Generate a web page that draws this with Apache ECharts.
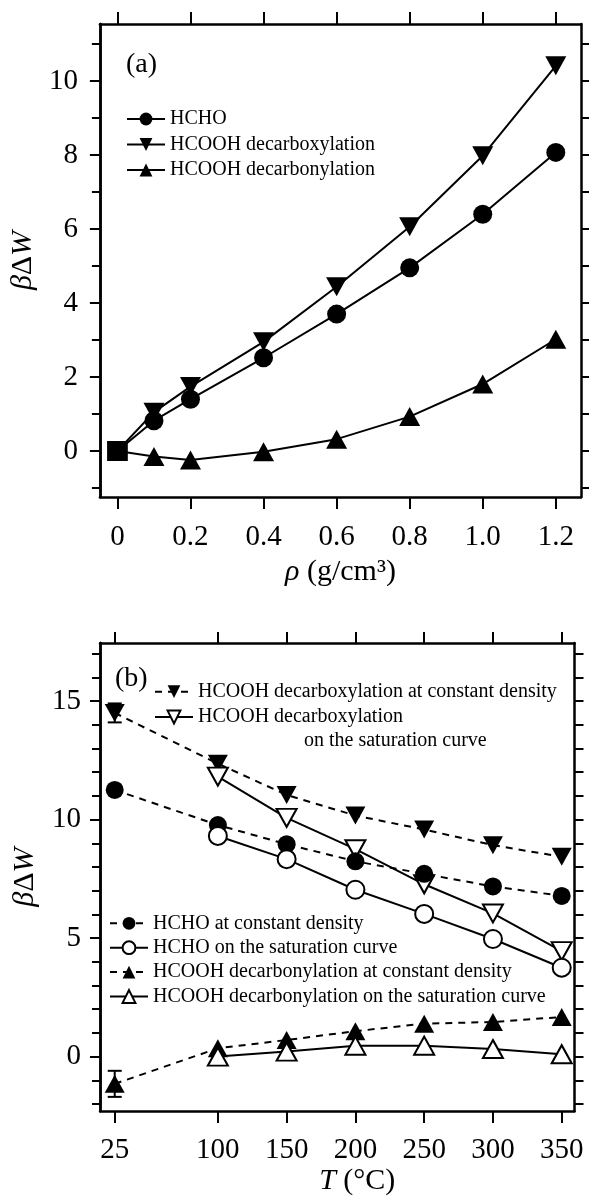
<!DOCTYPE html>
<html>
<head>
<meta charset="utf-8">
<script src="https://cdn.jsdelivr.net/npm/echarts@6/dist/echarts.min.js"></script>
<style>
html, body { margin: 0; padding: 0; background: #fff; }
#chart { width: 589px; height: 1197px; }
</style>
</head>
<body>
<div id="chart"></div>
<script>
// panel (a): density dependence
const aRho = [0, 0.1, 0.2, 0.4, 0.6, 0.8, 1.0, 1.2];
const aHCHO = [0, 0.82, 1.40, 2.52, 3.70, 4.95, 6.40, 8.07];
const aDecarbox = [0, 1.05, 1.74, 2.95, 4.44, 6.06, 7.98, 10.41];
const aDecarbon = [0, -0.15, -0.24, -0.02, 0.32, 0.93, 1.81, 3.02];
const aXTicks = [0, 0.2, 0.4, 0.6, 0.8, 1.0, 1.2];
const aXLabels = ['0', '0.2', '0.4', '0.6', '0.8', '1.0', '1.2'];
const aYMajor = [0, 2, 4, 6, 8, 10];
const aYMinor = [-1, 1, 3, 5, 7, 9, 11];
const aYAll = [-1, 0, 1, 2, 3, 4, 5, 6, 7, 8, 9, 10, 11];

// panel (b): temperature dependence
const bT = [25, 100, 150, 200, 250, 300, 350];
const bTSat = [100, 150, 200, 250, 300, 350];
const bDecarboxConst = [14.5, 12.36, 11.04, 10.17, 9.58, 8.92, 8.43];
const bDecarboxSat = [11.81, 10.07, 8.75, 7.27, 6.04, 4.45];
const bHCHOConst = [11.25, 9.77, 8.96, 8.24, 7.71, 7.18, 6.78];
const bHCHOSat = [9.31, 8.33, 7.04, 6.02, 4.96, 3.75];
const bDecarbonConst = [-1.15, 0.35, 0.70, 1.07, 1.39, 1.46, 1.67];
const bDecarbonSat = [0.0, 0.21, 0.46, 0.46, 0.32, 0.10];
// error bars of the 25 °C points (half widths)
const bErrDecarbox = 0.4;
const bErrDecarbon = 0.55;
const bXTicks = [25, 100, 150, 200, 250, 300, 350];
const bYMajor = [0, 5, 10, 15];
const bYMinor = [-2, -1, 1, 2, 3, 4, 6, 7, 8, 9, 11, 12, 13, 14, 16, 17];
const bYAll = [-2, -1, 0, 1, 2, 3, 4, 5, 6, 7, 8, 9, 10, 11, 12, 13, 14, 15, 16, 17];

const font = 'Liberation Serif';
const downTri = 'path://M0,0L20,0L10,18Z';

function pairs(xs, ys, firstRect) {
  return xs.map(function (x, i) {
    if (firstRect && i === 0) return { value: [x, ys[i]], symbol: 'rect', symbolSize: 20 };
    return [x, ys[i]];
  });
}

function axis(grid, pos, min, max, ticks, tickLen, labels) {
  return {
    type: 'value', gridIndex: grid, position: pos, min: min, max: max,
    axisLine: { show: true, onZero: false, lineStyle: { color: '#000', width: 2.5 } },
    axisTick: { show: true, customValues: ticks, length: tickLen, lineStyle: { color: '#000', width: 2 } },
    axisLabel: labels ? labels : { show: false },
    splitLine: { show: false }
  };
}

function tickLabel(values, margin, fmt) {
  return {
    show: true, customValues: values, margin: margin, color: '#000',
    fontFamily: font, fontSize: 29, formatter: fmt
  };
}

const yName = '{i|β}Δ{i|W}';
const nameStyle = {
  fontFamily: font, fontSize: 30, color: '#000',
  rich: {
    i: { fontFamily: font, fontSize: 30, fontStyle: 'italic', color: '#000' }
  }
};

function lineSeries(name, xi, yi, data, symbol, size, filled, dashed) {
  return {
    type: 'line', name: name, xAxisIndex: xi, yAxisIndex: yi, data: data,
    symbol: symbol, symbolSize: size, showAllSymbol: true,
    lineStyle: { color: '#000', width: 2, type: dashed ? [7, 6] : 'solid' },
    itemStyle: { color: filled ? '#000' : '#fff', borderColor: '#000', borderWidth: filled ? 0 : 2 },
    emphasis: { disabled: true },
    animation: false
  };
}

function errorBar(params, api) {
  const x = api.value(0);
  const lo = api.coord([x, api.value(1)]);
  const hi = api.coord([x, api.value(2)]);
  const w = 7;
  const s = { stroke: '#000', lineWidth: 2 };
  return {
    type: 'group',
    children: [
      { type: 'line', shape: { x1: lo[0], y1: lo[1], x2: hi[0], y2: hi[1] }, style: s },
      { type: 'line', shape: { x1: lo[0] - w, y1: lo[1], x2: lo[0] + w, y2: lo[1] }, style: s },
      { type: 'line', shape: { x1: hi[0] - w, y1: hi[1], x2: hi[0] + w, y2: hi[1] }, style: s }
    ]
  };
}

const legendText = { fontFamily: font, fontSize: 20, color: '#000', lineHeight: 20 };

const myChart = echarts.init(document.getElementById('chart'));
const option = {
  backgroundColor: '#fff',
  animation: false,
  grid: [
    { left: 97, right: 8, top: 24, bottom: 700 },
    { left: 100, right: 14.5, top: 643, bottom: 80 }
  ],
  xAxis: [
    Object.assign(axis(0, 'bottom', -0.048, 1.269, aXTicks, 12,
      tickLabel(aXTicks, 26, function (v) { return aXLabels[aXTicks.indexOf(v)]; })), {
      name: '{i|ρ} (g/cm³)', nameLocation: 'middle', nameGap: 60, nameTextStyle: nameStyle
    }),
    axis(0, 'top', -0.048, 1.269, aXTicks, 12),
    Object.assign(axis(1, 'bottom', 14.3, 359.3, bXTicks, 12, tickLabel(bXTicks, 25)), {
      name: '{i|T} (°C)', nameLocation: 'middle', nameGap: 52,
      nameTextStyle: Object.assign({ padding: [0, 0, 0, 40] }, nameStyle)
    }),
    axis(1, 'top', 14.3, 359.3, bXTicks, 11)
  ],
  yAxis: [
    Object.assign(axis(0, 'left', -1.243, 11.54, aYMajor, 10, tickLabel(aYMajor, 22)), {
      name: yName, nameLocation: 'middle', nameGap: 58, nameRotate: 90, nameTextStyle: nameStyle
    }),
    axis(0, 'left', -1.243, 11.54, aYMinor, 8),
    axis(0, 'right', -1.243, 11.54, aYAll, 8),
    Object.assign(axis(1, 'left', -2.3, 17.45, bYMajor, 10, tickLabel(bYMajor, 19)), {
      name: yName, nameLocation: 'middle', nameGap: 60, nameRotate: 90, nameTextStyle: nameStyle
    }),
    axis(1, 'left', -2.3, 17.45, bYMinor, 8),
    axis(1, 'right', -2.3, 17.45, bYAll, 9)
  ],
  legend: [
    {
      data: ['HCHO', 'HCOOH decarboxylation', 'HCOOH decarbonylation'],
      orient: 'vertical', left: 126, top: 109, padding: 0, itemGap: 5.5,
      itemWidth: 38, itemHeight: 16, selectedMode: false, textStyle: legendText
    },
    {
      data: ['HCOOH decarboxylation at constant density', 'HCOOH decarboxylation on the saturation curve'],
      orient: 'vertical', left: 154, top: 681.7, padding: 0, itemGap: 5.3,
      itemWidth: 38, itemHeight: 16, selectedMode: false, textStyle: legendText,
      formatter: function (n) { return n.replace(' on the saturation curve', ''); }
    },
    {
      data: ['HCHO at constant density', 'HCHO on the saturation curve',
        'HCOOH decarbonylation at constant density', 'HCOOH decarbonylation on the saturation curve'],
      orient: 'vertical', left: 109, top: 913.3, padding: 0, itemGap: 4.4,
      itemWidth: 38, itemHeight: 16, selectedMode: false, textStyle: legendText
    }
  ],
  graphic: [
    { type: 'text', left: 126, top: 51, style: { text: '(a)', font: '28px "Liberation Serif"', fill: '#000' } },
    { type: 'text', left: 115, top: 665, style: { text: '(b)', font: '28px "Liberation Serif"', fill: '#000' } },
    { type: 'text', left: 304, top: 731, style: { text: 'on the saturation curve', font: '20px "Liberation Serif"', fill: '#000' } }
  ],
  series: [
    lineSeries('HCOOH decarbonylation', 0, 0, pairs(aRho, aDecarbon, true), 'triangle', [21, 19], true, false),
    lineSeries('HCOOH decarboxylation', 0, 0, pairs(aRho, aDecarbox, true), downTri, [21, 19], true, false),
    lineSeries('HCHO', 0, 0, pairs(aRho, aHCHO, true), 'circle', 19, true, false),

    {
      type: 'custom', xAxisIndex: 2, yAxisIndex: 3, renderItem: errorBar, silent: true,
      encode: { x: 0, y: [1, 2] },
      data: [
        [bT[0], bDecarboxConst[0] - bErrDecarbox, bDecarboxConst[0] + bErrDecarbox],
        [bT[0], bDecarbonConst[0] - bErrDecarbon, bDecarbonConst[0] + bErrDecarbon]
      ]
    },
    lineSeries('HCOOH decarboxylation at constant density', 2, 3, pairs(bT, bDecarboxConst), downTri, [20, 18], true, true),
    lineSeries('HCOOH decarboxylation on the saturation curve', 2, 3, pairs(bTSat, bDecarboxSat), downTri, [20, 18], false, false),
    lineSeries('HCHO at constant density', 2, 3, pairs(bT, bHCHOConst), 'circle', 18, true, true),
    lineSeries('HCHO on the saturation curve', 2, 3, pairs(bTSat, bHCHOSat), 'circle', 18, false, false),
    lineSeries('HCOOH decarbonylation at constant density', 2, 3, pairs(bT, bDecarbonConst), 'triangle', [20, 18], true, true),
    lineSeries('HCOOH decarbonylation on the saturation curve', 2, 3, pairs(bTSat, bDecarbonSat), 'triangle', [20, 18], false, false)
  ]
};
option && myChart.setOption(option);
</script>
</body>
</html>
